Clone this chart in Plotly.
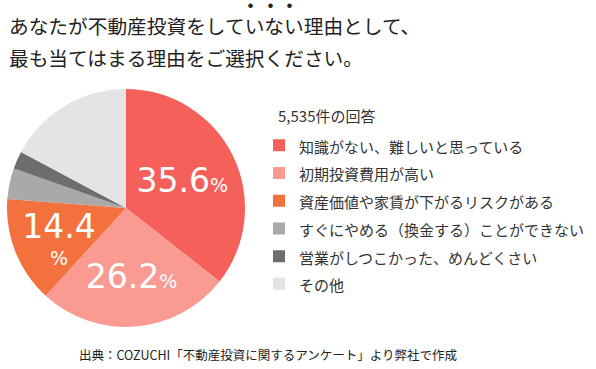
import plotly.graph_objects as go

W, H = 596, 369

title_lines = ["あなたが不動産投資をしていない理由として、", "最も当てはまる理由をご選択ください。"]
labels = ["知識がない、難しいと思っている", "初期投資費用が高い", "資産価値や家賃が下がるリスクがある",
          "すぐにやめる（換金する）ことができない", "営業がしつこかった、めんどくさい", "その他"]
values = [35.6, 26.2, 14.4, 4.2, 2.4, 17.2]
shown = [True, True, True, False, False, False]
wrap = [False, False, True, False, False, False]
legend_title = "5,535件の回答"
source = "出典：COZUCHI「不動産投資に関するアンケート」より弊社で作成"

colors = ["#F5605A", "#F99A93", "#F3713C", "#A9A9A9", "#6E6E6E", "#E4E4E4"]

def px(x):
    return x / W

def py(y):
    return 1 - y / H

pad = "<span style='font-size:21px'>&nbsp;&nbsp;&nbsp;</span>"
texts = []
for v, s, w in zip(values, shown, wrap):
    if not s:
        texts.append("")
    elif w:
        texts.append(pad + f"<span style='font-size:33px'>{v:.1f}</span><br>" + pad
                     + "<span style='font-size:19px'>%</span>")
    else:
        texts.append(f"<span style='font-size:33px'>{v:.1f}</span>"
                     + "<span style='font-size:19px'>%</span>")

fig = go.Figure(go.Pie(
    labels=[f"<span style='font-size:15px'>{l}</span>" for l in labels],
    values=values,
    text=texts,
    textinfo="text",
    textposition="inside",
    insidetextorientation="horizontal",
    textfont=dict(family="DejaVu Sans", size=21, color="white"),
    marker=dict(colors=colors, line=dict(width=0)),
    sort=False,
    direction="clockwise",
    rotation=0,
    domain=dict(x=[px(7), px(245)], y=[py(327), py(89)]),
    hoverinfo="label+percent",
))

fig.update_layout(
    width=W, height=H,
    margin=dict(l=0, r=0, t=0, b=0),
    paper_bgcolor="white",
    plot_bgcolor="white",
    font=dict(family="Noto Sans CJK JP", color="#333333"),
    uniformtext=dict(minsize=21, mode="show"),
    showlegend=True,
    legend=dict(
        x=px(259), y=py(126.5), xanchor="left", yanchor="top",
        font=dict(size=19, color="#333333", family="Noto Sans CJK JP"),
        bgcolor="rgba(0,0,0,0)",
    ),
)

ann = []
for i, (t, yc) in enumerate(zip(title_lines, [25, 58])):
    ann.append(dict(text=t, x=px(7), y=py(yc), xref="paper", yref="paper",
                    xanchor="left", yanchor="middle", showarrow=False,
                    font=dict(size=19.7, color="#222222", family="Noto Sans CJK JP")))
for xd in [251, 270, 289]:
    ann.append(dict(text="●", x=px(xd), y=py(5), xref="paper", yref="paper",
                    xanchor="center", yanchor="middle", showarrow=False,
                    font=dict(size=5, color="#222222")))
ann.append(dict(text=legend_title, x=px(276), y=py(115), xref="paper", yref="paper",
                xanchor="left", yanchor="middle", showarrow=False,
                font=dict(size=15, color="#333333", family="Noto Sans CJK JP")))
ann.append(dict(text=source, x=px(77), y=py(354), xref="paper", yref="paper",
                xanchor="left", yanchor="middle", showarrow=False,
                font=dict(size=12.5, color="#222222", family="Noto Sans CJK JP")))
fig.update_layout(annotations=ann)

fig.write_html("out.html")
